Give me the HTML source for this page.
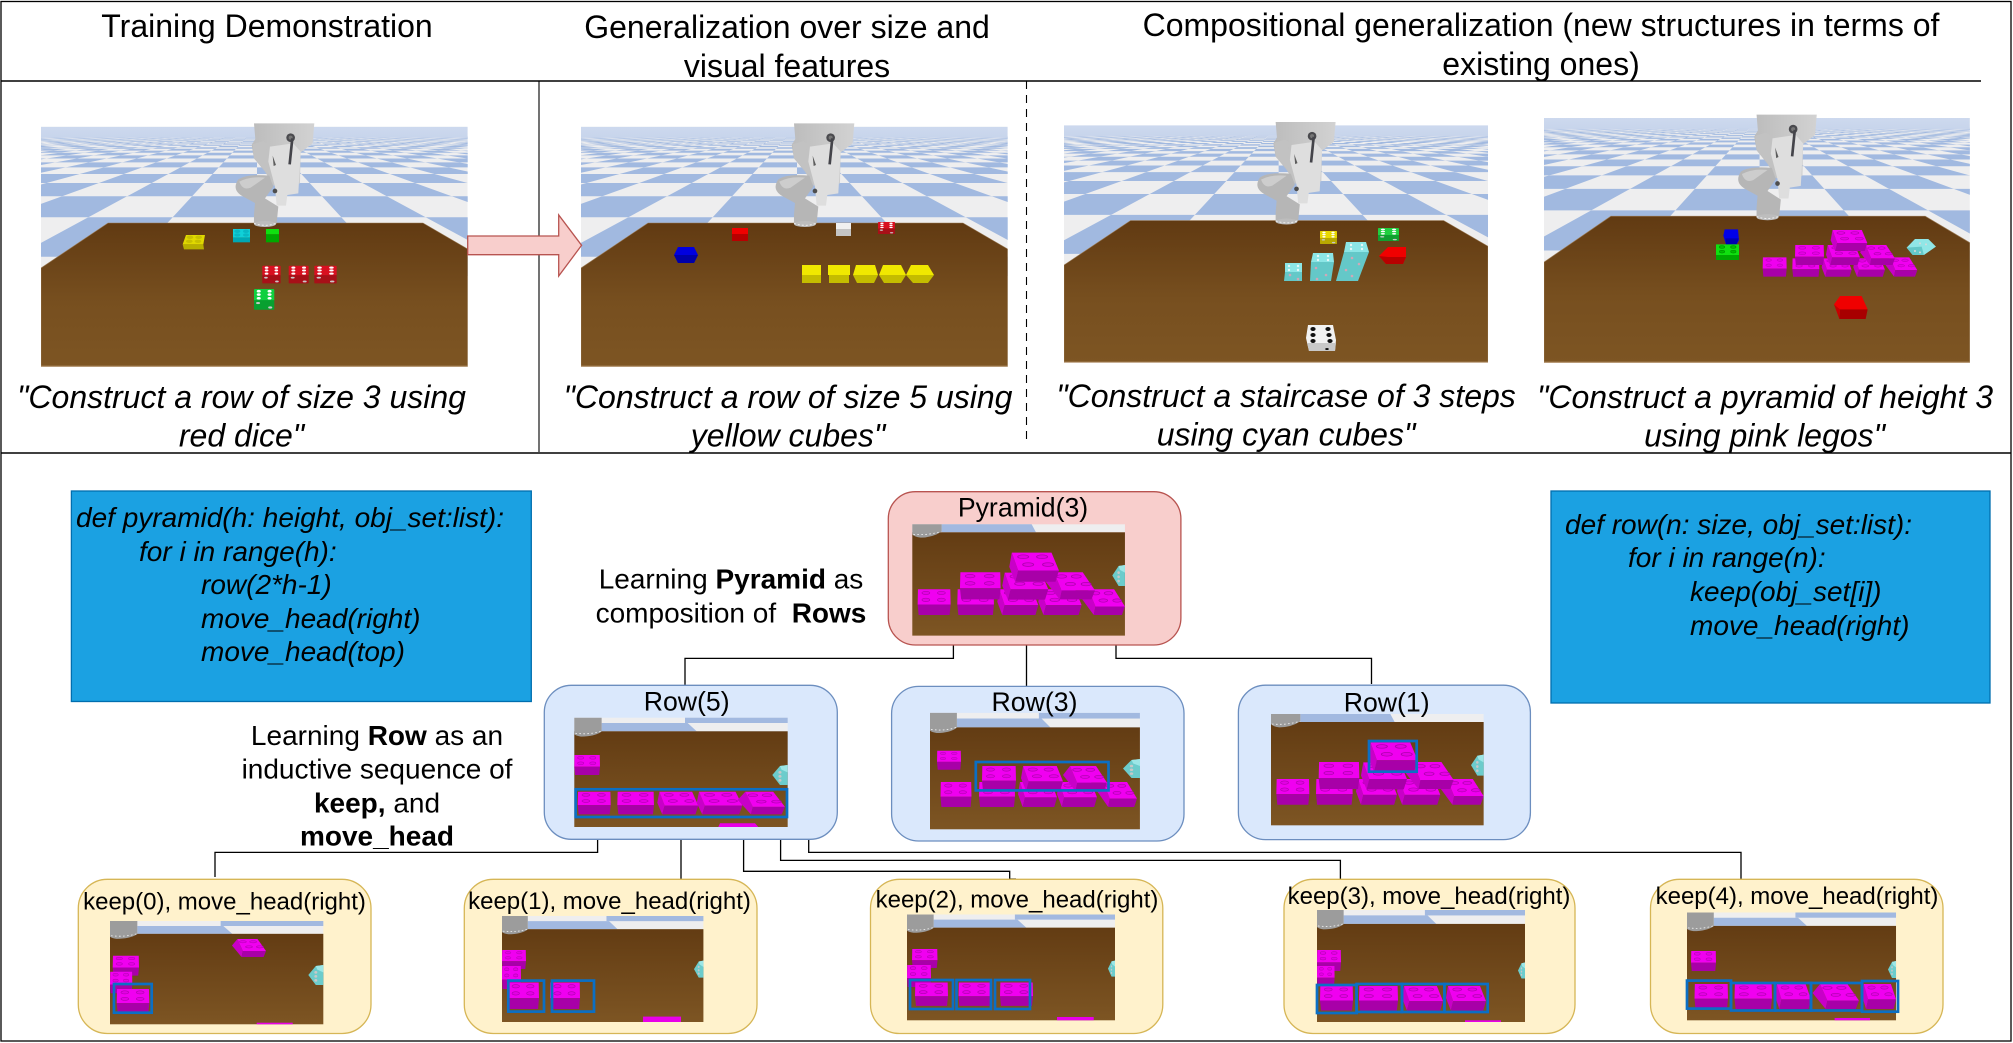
<!DOCTYPE html>
<html>
<head>
<meta charset="utf-8">
<title>Diagram</title>
<style>
html,body{margin:0;padding:0;background:#fff}
svg{display:block}
text{font-family:"Liberation Sans",Arial,sans-serif;fill:#000;white-space:pre}
.h{font-size:32px;text-anchor:middle}
.c{font-size:32px;font-style:italic;text-anchor:middle}
.n{font-size:26.67px;text-anchor:middle}
.l{font-size:28px;text-anchor:middle}
.k{font-size:24px;text-anchor:middle}
.d{font-size:28px;font-style:italic}
.b{font-weight:bold}
.br{fill:none;stroke:#0b6fc4;stroke-width:2.7}
.cn{fill:none;stroke:#000;stroke-width:1.3}
.sl{fill:#e800e8}
</style>
</head>
<body>
<svg xmlns="http://www.w3.org/2000/svg" width="2013" height="1043" viewBox="0 0 2013 1043">
<defs>
<linearGradient id="tg" x1="0" y1="96" x2="0" y2="240" gradientUnits="userSpaceOnUse">
<stop offset="0" stop-color="#613a12"/><stop offset=".55" stop-color="#774f1f"/><stop offset="1" stop-color="#7d5523"/>
</linearGradient>
<linearGradient id="tm" x1="0" y1="0" x2="0" y2="1">
<stop offset="0" stop-color="#633c13"/><stop offset="1" stop-color="#7d5523"/>
</linearGradient>
<linearGradient id="far" x1="0" y1="0" x2="0" y2="1">
<stop offset="0" stop-color="#cdd9ee"/><stop offset=".7" stop-color="#c8d5ec"/><stop offset="1" stop-color="#c8d5ec" stop-opacity="0"/>
</linearGradient>
<linearGradient id="ag" x1="0" y1="0" x2="1" y2="0">
<stop offset="0" stop-color="#bcbcbc"/><stop offset="1" stop-color="#d2d2d2"/>
</linearGradient>
<clipPath id="cs"><rect width="426.7" height="240"/></clipPath>
<clipPath id="rO"><path d="M-999 91.3H999V130.7H-999ZM-999 57H999V70.2H-999ZM-999 41.4H999V48H-999ZM-999 32.5H999V36.4H-999ZM-999 26.8H999V29.4H-999ZM-999 22.8H999V24.6H-999ZM-999 19.8H999V21.2H-999ZM-999 17.5H999V18.6H-999ZM-999 15.7H999V16.5H-999ZM-999 14.2H999V14.9H-999ZM-999 13H999V13.6H-999ZM-999 12H999V12.5H-999ZM-999 11.1H999V11.5H-999ZM-999 10.3H999V10.7H-999Z"/></clipPath>
<clipPath id="rE"><path d="M-999 130.7H999V240H-999ZM-999 70.2H999V91.3H-999ZM-999 48H999V57H-999ZM-999 36.4H999V41.4H-999ZM-999 29.4H999V32.5H-999ZM-999 24.6H999V26.8H-999ZM-999 21.2H999V22.8H-999ZM-999 18.6H999V19.8H-999ZM-999 16.5H999V17.5H-999ZM-999 14.9H999V15.7H-999ZM-999 13.6H999V14.2H-999ZM-999 12.5H999V13H-999ZM-999 11.5H999V12H-999ZM-999 10.7H999V11.1H-999Z"/></clipPath>
<path id="wA" fill="#a1b9e0" d="M0 0L-2402.4 100L-2310 100ZM0 0L-2217.6 100L-2125.2 100ZM0 0L-2032.8 100L-1940.4 100ZM0 0L-1848 100L-1755.6 100ZM0 0L-1663.2 100L-1570.8 100ZM0 0L-1478.4 100L-1386 100ZM0 0L-1293.6 100L-1201.2 100ZM0 0L-1108.8 100L-1016.4 100ZM0 0L-924 100L-831.6 100ZM0 0L-739.2 100L-646.8 100ZM0 0L-554.4 100L-462 100ZM0 0L-369.6 100L-277.2 100ZM0 0L-184.8 100L-92.4 100ZM0 0L0 100L92.4 100ZM0 0L184.8 100L277.2 100ZM0 0L369.6 100L462 100ZM0 0L554.4 100L646.8 100ZM0 0L739.2 100L831.6 100ZM0 0L924 100L1016.4 100ZM0 0L1108.8 100L1201.2 100ZM0 0L1293.6 100L1386 100ZM0 0L1478.4 100L1570.8 100ZM0 0L1663.2 100L1755.6 100ZM0 0L1848 100L1940.4 100ZM0 0L2032.8 100L2125.2 100ZM0 0L2217.6 100L2310 100Z"/>

<g id="arm">
<path fill="url(#ag)" d="M672 25H853L848 85L812 112L810 205L730 212L705 170L672 130L665 90L676 72Z"/>
<path fill="#c2c2c2" d="M668 88L700 78L720 92L708 102L735 140L728 195L700 160L672 130Z"/>
<path fill="#dedede" d="M720 95L790 85L812 110L805 235L772 240L768 272L740 272L735 215L715 140Z"/>
<path fill="#b6b6b6" d="M718 182Q650 176 625 193Q603 225 640 245L675 264L672 300L672 325Q705 340 740 325L745 275L705 250L730 215Z"/>
<path fill="#cdcdcd" d="M628 200Q660 183 705 188L662 218Q638 228 628 200Z"/>
<circle cx="782" cy="68" r="13" fill="#4a4a4e"/><circle cx="782" cy="68" r="6" fill="#777"/>
<path d="M787 70L779 148" stroke="#44444a" stroke-width="8" fill="none"/>
<path d="M728 122L738 150L731 153Z" fill="#5c5c5c"/>
<circle cx="735" cy="228" r="7" fill="#4e4e4e"/>
<ellipse cx="705" cy="327" rx="33" ry="9" fill="#bdbdbd"/>
<path d="M672 325Q705 337 738 325" fill="none" stroke="#eee" stroke-width="3" stroke-dasharray="6 6"/>
</g>

<g id="scene">
<g clip-path="url(#cs)">
<rect width="426.7" height="240" fill="#eeeeef"/>
<g transform="translate(216,-.7)">
<g clip-path="url(#rO)"><g transform="scale(1.5)"><use href="#wA"/></g></g>
<g clip-path="url(#rE)"><g transform="scale(1.5)"><use href="#wA" transform="matrix(1 0 .924 1 0 0)"/></g></g>
</g>
<rect width="426.7" height="14" fill="url(#far)"/>
<path fill="url(#tg)" stroke="#9a7a55" stroke-width=".6" d="M0 141.3L67 96.3H382L426.7 122.3V240H0Z"/>
<rect y="239" width="426.7" height="1" fill="#b5936a"/>
</g>
<use href="#arm" transform="translate(-11,-11.7) scale(.3333)"/>
</g>

<g id="die">
<rect width="60" height="32" rx="3" style="fill:var(--t)"/>
<rect y="30" width="60" height="26" rx="2" style="fill:var(--f)"/>
<g style="fill:var(--p,#fff)"><ellipse cx="14" cy="6" rx="6" ry="3.5"/><ellipse cx="46" cy="6" rx="6" ry="3.5"/><ellipse cx="14" cy="15" rx="6" ry="3.5"/><ellipse cx="46" cy="15" rx="6" ry="3.5"/><ellipse cx="14" cy="25" rx="6" ry="3.5"/><ellipse cx="46" cy="25" rx="6" ry="3.5"/></g>
<ellipse cx="12" cy="38" rx="6" ry="3" fill="#c8c8c8"/><ellipse cx="48" cy="50" rx="6" ry="3" fill="#c8c8c8"/>
</g>

<g id="L0">
<path fill="#f000f0" d="M1 0H99L100 46H0Z"/>
<path fill="#a800a8" d="M0 46H100L97 78H3Z"/>
<g fill="#e400e4" stroke="#b000b0" stroke-width="2"><ellipse cx="25" cy="11" rx="12" ry="5"/><ellipse cx="72" cy="11" rx="12" ry="5"/><ellipse cx="25" cy="32" rx="12" ry="5"/><ellipse cx="72" cy="32" rx="12" ry="5"/></g>
</g>
<g id="L1">
<path fill="#c800c8" d="M5 0L0 38L12 78L18 48Z"/>
<path fill="#f000f0" d="M5 0H85L100 48H18Z"/>
<path fill="#a800a8" d="M18 48H100L93 78H12Z"/>
<g fill="#e400e4" stroke="#b000b0" stroke-width="2"><ellipse cx="28" cy="11" rx="11" ry="5"/><ellipse cx="66" cy="11" rx="11" ry="5"/><ellipse cx="38" cy="32" rx="11" ry="5"/><ellipse cx="78" cy="32" rx="11" ry="5"/></g>
</g>
<g id="L2">
<path fill="#c800c8" d="M16 0L0 28L28 78L32 52Z"/>
<path fill="#f000f0" d="M16 0H75L100 52H32Z"/>
<path fill="#a800a8" d="M32 52H100L93 78H28Z"/>
<g fill="#e400e4" stroke="#b000b0" stroke-width="2"><ellipse cx="32" cy="12" rx="10" ry="5"/><ellipse cx="62" cy="12" rx="10" ry="5"/><ellipse cx="50" cy="34" rx="10" ry="5"/><ellipse cx="82" cy="34" rx="10" ry="5"/></g>
</g>
<g id="cy">
<path fill="#6ccccc" d="M0 30L20 3L40 0V60L20 60Z"/>
<path fill="#9ce6e6" d="M20 3L40 0V22L24 14Z"/>
<g fill="#c8c8c8"><circle cx="20" cy="22" r="4"/><circle cx="20" cy="34" r="4"/><circle cx="20" cy="46" r="4"/></g>
</g>

<g id="m2">
<rect width="640" height="41" fill="#eeeeef"/>
<rect x="332" width="308" height="16" fill="#a2b9e0"/>
<path d="M82 16H340L367 41H82Z" fill="#a2b9e0"/>
<rect y="41" width="640" height="289" fill="url(#tm)"/>
<path d="M0 0H82V42Q60 57 20 57Q5 55 0 50Z" fill="#9c9c9c"/>
<path d="M3 47Q45 52 80 41" fill="none" stroke="#eee" stroke-width="2.5" stroke-dasharray="5 7"/>
</g>
<g id="m1">
<rect width="638" height="24" fill="#eeeeef"/>
<path d="M88 0H358L371 24H88Z" fill="#a2b9e0"/>
<rect y="24" width="638" height="310" fill="url(#tm)"/>
<path d="M0 0H88V22Q60 40 25 40Q5 38 0 30Z" fill="#9c9c9c"/>
<path d="M3 30Q45 34 86 22" fill="none" stroke="#eee" stroke-width="2.5" stroke-dasharray="5 7"/>
</g>
<g id="pyr">
<use href="#m1"/>
<use href="#L0" transform="translate(16,195) scale(.99,.99)"/>
<use href="#L0" transform="translate(135,195) scale(1.1,.99)"/>
<use href="#L1" transform="translate(255,195) scale(1.23,.99)"/>
<use href="#L1" transform="translate(378,195) scale(1.3,.99)"/>
<use href="#L2" transform="translate(508,195) scale(1.3,.99)"/>
<use href="#L0" transform="translate(143,144) scale(1.22,1.04)"/>
<use href="#L1" transform="translate(270,145) scale(1.38,1.04)"/>
<use href="#L2" transform="translate(401,144) scale(1.47,1.04)"/>
<use href="#L1" transform="translate(291,85) scale(1.49,1.12)"/>
<use href="#cy" transform="translate(600,122) scale(.95,1.05)"/>
</g>
</defs>

<rect width="2013" height="1043" fill="#fff"/>

<!-- frame -->
<rect x="1" y="1.5" width="2010" height="1039.5" fill="none" stroke="#000" stroke-width="1.3"/>
<path d="M1 81H1981" stroke="#000" stroke-width="1.4" fill="none"/>
<path d="M1 453H2011" stroke="#000" stroke-width="1.4" fill="none"/>
<path d="M539 81V452" stroke="#000" stroke-width="1.1" fill="none"/>
<path d="M1026.5 81V442" stroke="#000" stroke-width="1.1" stroke-dasharray="8 6" fill="none"/>

<!-- headers -->
<text class="h" x="267" y="37">Training Demonstration</text>
<text class="h" x="787" y="38">Generalization over size and</text>
<text class="h" x="787" y="77">visual features</text>
<text class="h" x="1541" y="36">Compositional generalization (new structures in terms of</text>
<text class="h" x="1541" y="75">existing ones)</text>

<!-- scene 1 -->
<use href="#scene" transform="translate(41,126.7)"/>
<g transform="translate(30,115) scale(.3333)">
<path fill="#e0d800" d="M468 360H525L520 388H458Z"/><path fill="#b8b000" d="M458 388H520L522 403H462Z"/>
<g fill="#c8c000"><ellipse cx="480" cy="367" rx="10" ry="5"/><ellipse cx="506" cy="367" rx="10" ry="5"/><ellipse cx="478" cy="379" rx="10" ry="5"/><ellipse cx="504" cy="379" rx="10" ry="5"/></g>
<rect x="609" y="342" width="51" height="26" fill="#10d0d8"/><rect x="609" y="368" width="51" height="14" fill="#00a8b4"/>
<g fill="#08b8c4"><ellipse cx="622" cy="349" rx="9" ry="5"/><ellipse cx="648" cy="349" rx="9" ry="5"/><ellipse cx="622" cy="360" rx="9" ry="5"/><ellipse cx="648" cy="360" rx="9" ry="5"/></g>
<rect x="708" y="342" width="39" height="16" fill="#10e010"/><rect x="708" y="358" width="39" height="24" fill="#00a800"/>
</g>
<use href="#die" style="--t:#d81020;--f:#a81018" transform="translate(262.3,265.7) scale(.305,.315)"/>
<use href="#die" style="--t:#d81020;--f:#a81018" transform="translate(288.7,265.7) scale(.333,.315)"/>
<use href="#die" style="--t:#d81020;--f:#a81018" transform="translate(314.3,265.7) scale(.373,.315)"/>
<use href="#die" style="--t:#10d040;--f:#08a030" transform="translate(254,289) scale(.338,.37)"/>

<!-- scene 2 -->
<use href="#scene" transform="translate(581,126.7)"/>
<rect x="732" y="228" width="16" height="6" fill="#f00000"/><rect x="732" y="234" width="16" height="7" fill="#b80000"/>
<rect x="836" y="223" width="15" height="6" fill="#f0f0f0"/><rect x="836" y="229" width="15" height="7" fill="#c4c4c4"/>
<use href="#die" style="--t:#d81020;--f:#a81018" transform="translate(878,222) scale(.283,.215)"/>
<path fill="#0000e0" d="M678 247H694L698 255L694 263H678L674 255Z"/><path fill="#0000a8" d="M674 255H698L694 263H678Z"/>
<g>
<rect x="802" y="265" width="19" height="10" fill="#f0e800"/><rect x="802" y="275" width="19" height="8" fill="#c4bc00"/>
<rect x="828" y="265" width="22" height="10" fill="#f0e800"/><rect x="829" y="275" width="20" height="8" fill="#c4bc00"/>
<path fill="#f0e800" d="M856 265H875L878 275H853Z"/><path fill="#c4bc00" d="M853 275H878L874 283H857Z"/>
<path fill="#f0e800" d="M883 265H901L906 275H879Z"/><path fill="#c4bc00" d="M879 275H906L901 283H884Z"/>
<path fill="#f0e800" d="M911 265H928L934 275H906Z"/><path fill="#c4bc00" d="M906 275H934L928 283H913Z"/>
</g>

<!-- scene 3 -->
<use href="#scene" transform="translate(1064,125.3) scale(.9937,.989)"/>
<use href="#die" style="--t:#e8d800;--f:#b8a800" transform="translate(1320,231) scale(.283,.232)"/>
<use href="#die" style="--t:#20d040;--f:#10a030" transform="translate(1378,228) scale(.35,.232)"/>
<path fill="#f00000" d="M1388 247H1406V257L1403 264H1386L1379 256Z"/><path fill="#b80000" d="M1379 256L1386 264H1403L1406 257H1388Z"/>
<path fill="#8ce6e6" d="M1285 263H1302V272H1285Z"/><path fill="#64c8c8" d="M1285 272H1302V281H1284Z"/>
<path fill="#8ce6e6" d="M1313 253H1333L1334 262H1311Z"/><path fill="#64c8c8" d="M1311 262H1334L1331 281H1310Z"/>
<path fill="#8ce6e6" d="M1346 242H1366L1369 252H1344Z"/><path fill="#64c8c8" d="M1344 252H1369L1358 281H1336Z"/>
<g fill="#d0a8b8"><circle cx="1290" cy="275" r="1.3"/><circle cx="1298" cy="279" r="1.3"/><circle cx="1316" cy="268" r="1.3"/><circle cx="1326" cy="275" r="1.3"/><circle cx="1317" cy="279" r="1.3"/><circle cx="1352" cy="258" r="1.3"/><circle cx="1359" cy="264" r="1.3"/><circle cx="1346" cy="270" r="1.3"/><circle cx="1352" cy="276" r="1.3"/></g>
<g fill="#e8f8f8"><circle cx="1289" cy="266" r="1.2"/><circle cx="1298" cy="266" r="1.2"/><circle cx="1289" cy="270" r="1.2"/><circle cx="1298" cy="270" r="1.2"/><circle cx="1318" cy="256" r="1.2"/><circle cx="1328" cy="256" r="1.2"/><circle cx="1318" cy="260" r="1.2"/><circle cx="1328" cy="260" r="1.2"/><circle cx="1351" cy="245" r="1.2"/><circle cx="1362" cy="245" r="1.2"/><circle cx="1351" cy="249" r="1.2"/><circle cx="1362" cy="249" r="1.2"/></g>
<path fill="#f2f2f2" d="M1308 325H1333L1336 340L1335 351H1309L1306 338Z"/><path fill="#c8c8c8" d="M1307 343H1336L1335 351H1309Z"/>
<g fill="#111"><ellipse cx="1313" cy="329" rx="2.6" ry="2"/><ellipse cx="1328" cy="329" rx="2.6" ry="2"/><ellipse cx="1313" cy="335" rx="2.6" ry="2"/><ellipse cx="1329" cy="335" rx="2.6" ry="2"/><ellipse cx="1313" cy="341" rx="2.6" ry="2"/><ellipse cx="1330" cy="341" rx="2.6" ry="2"/><ellipse cx="1327" cy="349" rx="1.8" ry="1"/></g>

<!-- scene 4 -->
<use href="#scene" transform="translate(1544,118) scale(.998,1.0196)"/>
<g transform="translate(1720,215) scale(.3333)">
<path fill="#0000e8" d="M14 43H54L57 75L50 88H18L10 62Z"/><path fill="#0000b0" d="M16 70H56L50 88H18Z"/>
<path fill="#10e010" d="M-12 88H57V120H-12Z"/><path fill="#00a800" d="M-12 120H57V135H-12Z"/>
<g fill="#00c000" stroke="#009000" stroke-width="2"><ellipse cx="6" cy="96" rx="8" ry="4"/><ellipse cx="40" cy="96" rx="8" ry="4"/><ellipse cx="6" cy="110" rx="8" ry="4"/><ellipse cx="40" cy="110" rx="8" ry="4"/></g>
<use href="#L0" transform="translate(128,127) scale(.72,.74)"/>
<use href="#L0" transform="translate(217,130) scale(.81,.71)"/>
<use href="#L1" transform="translate(305,130) scale(.9,.71)"/>
<use href="#L1" transform="translate(400,130) scale(.95,.71)"/>
<use href="#L2" transform="translate(495,127) scale(.97,.74)"/>
<use href="#L0" transform="translate(225,90) scale(.87,.77)"/>
<use href="#L1" transform="translate(318,90) scale(1.02,.77)"/>
<use href="#L2" transform="translate(420,90) scale(1.05,.77)"/>
<use href="#L1" transform="translate(332,45) scale(1.1,.81)"/>
<path fill="#f00000" d="M360 243H425L443 283L360 290L342 268Z"/><path fill="#a80000" d="M360 283H443L437 312H358Z"/><path fill="#c80000" d="M342 268L360 283L358 312Z"/>
<path fill="#90e6e6" d="M560 98L585 72H625L648 95L612 120H578Z"/><path fill="#64c8c8" d="M560 98L605 95L612 120H578Z"/>
<g fill="#d8d8d8"><circle cx="600" cy="85" r="3"/><circle cx="618" cy="88" r="3"/><circle cx="585" cy="108" r="3"/><circle cx="600" cy="112" r="3"/></g>
</g>

<!-- captions -->
<text class="c" x="241.5" y="408">"Construct a row of size 3 using</text>
<text class="c" x="241.5" y="446.5">red dice"</text>
<text class="c" x="788" y="408">"Construct a row of size 5 using</text>
<text class="c" x="788" y="446.5">yellow cubes"</text>
<text class="c" x="1286" y="407">"Construct a staircase of 3 steps</text>
<text class="c" x="1286" y="445.5">using cyan cubes"</text>
<text class="c" x="1765" y="408">"Construct a pyramid of height 3</text>
<text class="c" x="1764.5" y="446.5">using pink legos"</text>

<!-- arrow -->
<path fill="#f8cecc" stroke="#b85450" stroke-width="1.3" d="M467.7 236H558.7V215L581.6 245.3L558.7 276V254.7H467.7Z"/>

<!-- code boxes -->
<rect x="71.4" y="491" width="459.9" height="210.5" fill="#1ba1e2" stroke="#006eaf" stroke-width="1.3"/>
<text class="d" x="76" y="527">def pyramid(h: height, obj_set:list):</text>
<text class="d" x="139" y="561">for i in range(h):</text>
<text class="d" x="201" y="594">row(2*h-1)</text>
<text class="d" x="201" y="628">move_head(right)</text>
<text class="d" x="201" y="661">move_head(top)</text>
<rect x="1551" y="491" width="439" height="212" fill="#1ba1e2" stroke="#006eaf" stroke-width="1.3"/>
<text class="d" x="1565" y="534">def row(n: size, obj_set:list):</text>
<text class="d" x="1628" y="567">for i in range(n):</text>
<text class="d" x="1690" y="601">keep(obj_set[i])</text>
<text class="d" x="1690" y="635">move_head(right)</text>

<!-- connectors -->
<path class="cn" d="M953.4 645V658.4H685V685"/>
<path class="cn" d="M1026.5 645V686"/>
<path class="cn" d="M1116 645V658.4H1371.5V684"/>
<path class="cn" d="M597.6 839V852.4H215V877"/>
<path class="cn" d="M681 839V879"/>
<path class="cn" d="M743.6 839V871.3H1009.7V879H1016"/>
<path class="cn" d="M780.6 839V860.4H1340.4V879"/>
<path class="cn" d="M808.7 839V852.4H1741V879"/>

<!-- Pyramid -->
<rect x="888.3" y="491.7" width="292.6" height="153.3" rx="27" fill="#f8cecc" stroke="#b85450" stroke-width="1.3"/>
<use href="#pyr" transform="translate(912.3,524.3) scale(.3333)"/>
<text class="n" x="1023" y="516.5">Pyramid(3)</text>

<!-- Row 5 -->
<rect x="544.3" y="685.3" width="293" height="154" rx="27" fill="#dae8fc" stroke="#6c8ebf" stroke-width="1.3"/>
<use href="#m2" transform="translate(574.3,717.7) scale(.3334,.3312)"/>
<use href="#L0" transform="translate(574.3,755) scale(.257,.256)"/>
<use href="#L0" transform="translate(577.7,791.7) scale(.33,.291)"/>
<use href="#L0" transform="translate(617.3,791.7) scale(.367,.291)"/>
<use href="#L1" transform="translate(657.3,791.7) scale(.41,.291)"/>
<use href="#L1" transform="translate(696.7,791.7) scale(.457,.291)"/>
<use href="#L2" transform="translate(737.7,791.7) scale(.473,.291)"/>
<use href="#cy" transform="translate(772.3,765) scale(.383,.333)"/>
<path class="sl" d="M720 823.3H755L758.3 827H718.3Z"/>
<rect class="br" x="575.7" y="789.3" width="211.3" height="27.7"/>
<text class="n" x="686.7" y="710.7">Row(5)</text>

<!-- Row 3 -->
<rect x="891.6" y="686.4" width="292.4" height="154.6" rx="27" fill="#dae8fc" stroke="#6c8ebf" stroke-width="1.3"/>
<use href="#m2" transform="translate(930,712.9) scale(.328,.3527)"/>
<use href="#L0" transform="translate(937,750.7) scale(.24,.244)"/>
<use href="#L0" transform="translate(940.5,782) scale(.31,.32)"/>
<use href="#L0" transform="translate(979,782) scale(.36,.32)"/>
<use href="#L1" transform="translate(1018,782) scale(.39,.32)"/>
<use href="#L1" transform="translate(1057,782) scale(.4,.32)"/>
<use href="#L2" transform="translate(1097,782) scale(.4,.32)"/>
<use href="#L0" transform="translate(982,766) scale(.34,.32)"/>
<use href="#L1" transform="translate(1021,766) scale(.42,.32)"/>
<use href="#L2" transform="translate(1063,766) scale(.44,.32)"/>
<use href="#cy" transform="translate(1123,759) scale(.425,.317)"/>
<rect class="br" x="975.8" y="762" width="132.7" height="28.4"/>
<text class="n" x="1034.5" y="711">Row(3)</text>

<!-- Row 1 -->
<rect x="1238.4" y="685.2" width="292" height="154.4" rx="27" fill="#dae8fc" stroke="#6c8ebf" stroke-width="1.3"/>
<use href="#pyr" transform="translate(1271,714) scale(.3333)"/>
<rect class="br" x="1369" y="741" width="47.7" height="30.7"/>
<text class="n" x="1386.7" y="711.7">Row(1)</text>

<!-- Learning text -->
<text class="l" x="731" y="588.4">Learning <tspan class="b">Pyramid</tspan> as</text>
<text class="l" x="731" y="622.5">composition of  <tspan class="b">Rows</tspan></text>
<text class="l" x="377" y="745">Learning <tspan class="b">Row</tspan> as an</text>
<text class="l" x="377" y="778.3">inductive sequence of</text>
<text class="l" x="377" y="812.3"><tspan class="b">keep,</tspan> and</text>
<text class="l b" x="377" y="845.6">move_head</text>

<!-- keep 0 -->
<rect x="78.3" y="879.3" width="292.7" height="154.2" rx="29" fill="#fff2cc" stroke="#d6b656" stroke-width="1.3"/>
<use href="#m2" transform="translate(110,921) scale(.3333,.313)"/>
<use href="#L2" transform="translate(232,939) scale(.34,.23)"/>
<use href="#L0" transform="translate(112.7,955.7) scale(.263,.256)"/>
<use href="#L0" transform="translate(110,971.7) scale(.223,.277)"/>
<use href="#L0" transform="translate(116.7,989) scale(.326,.308)"/>
<rect class="sl" x="256.7" y="1022.7" width="36" height="1.6"/>
<use href="#cy" transform="translate(308.3,965) scale(.375,.333)"/>
<rect class="br" x="114" y="984" width="37.7" height="28.7"/>
<text class="k" x="224.5" y="909.3">keep(0), move_head(right)</text>

<!-- keep 1 -->
<rect x="464.3" y="879.3" width="292.7" height="154.2" rx="29" fill="#fff2cc" stroke="#d6b656" stroke-width="1.3"/>
<use href="#m2" transform="translate(502,916) scale(.3147,.3212)"/>
<use href="#L0" transform="translate(502,950) scale(.24,.244)"/>
<use href="#L0" transform="translate(502,966) scale(.19,.295)"/>
<use href="#L0" transform="translate(508,982.5) scale(.31,.34)"/>
<use href="#L0" transform="translate(550,982.5) scale(.3,.34)"/>
<rect class="sl" x="643" y="1016.6" width="38" height="5.4"/>
<use href="#cy" transform="translate(694,960.6) scale(.235,.283)"/>
<rect class="br" x="508.3" y="980.6" width="35.7" height="31"/>
<rect class="br" x="552" y="980.6" width="42" height="31"/>
<text class="k" x="609.5" y="908.8">keep(1), move_head(right)</text>

<!-- keep 2 -->
<rect x="870.5" y="879.3" width="292.3" height="154.2" rx="29" fill="#fff2cc" stroke="#d6b656" stroke-width="1.3"/>
<use href="#m2" transform="translate(907,914.5) scale(.325,.3206)"/>
<use href="#L0" transform="translate(912,949) scale(.255,.244)"/>
<use href="#L0" transform="translate(907,965) scale(.24,.282)"/>
<use href="#L0" transform="translate(915,982.5) scale(.33,.3)"/>
<use href="#L0" transform="translate(958.5,982.5) scale(.32,.3)"/>
<use href="#L0" transform="translate(1000,982.5) scale(.33,.3)"/>
<rect class="sl" x="1057" y="1017" width="36.7" height="3.3"/>
<use href="#cy" transform="translate(1108,960.6) scale(.175,.267)"/>
<rect class="br" x="910" y="980" width="43" height="29"/>
<rect class="br" x="956.5" y="980" width="34.5" height="29"/>
<rect class="br" x="995" y="980" width="35" height="29"/>
<text class="k" x="1017" y="907.6">keep(2), move_head(right)</text>

<!-- keep 3 -->
<rect x="1284" y="879.3" width="291" height="154.2" rx="29" fill="#fff2cc" stroke="#d6b656" stroke-width="1.3"/>
<use href="#m2" transform="translate(1317,910) scale(.325,.3394)"/>
<use href="#L0" transform="translate(1317,950) scale(.24,.269)"/>
<use href="#L0" transform="translate(1317,966) scale(.176,.256)"/>
<use href="#L0" transform="translate(1320,986) scale(.33,.314)"/>
<use href="#L0" transform="translate(1359,986) scale(.39,.314)"/>
<use href="#L1" transform="translate(1402,986) scale(.41,.314)"/>
<use href="#L1" transform="translate(1446,986) scale(.4,.314)"/>
<rect class="sl" x="1465" y="1020.3" width="36" height="1.7"/>
<use href="#cy" transform="translate(1518,962.5) scale(.175,.267)"/>
<rect class="br" x="1317" y="985" width="39.6" height="28"/>
<rect class="br" x="1356.6" y="984" width="45.4" height="28"/>
<rect class="br" x="1402" y="984" width="42.4" height="28"/>
<rect class="br" x="1444.4" y="984" width="43.3" height="28"/>
<text class="k" x="1429" y="904">keep(3), move_head(right)</text>

<!-- keep 4 -->
<rect x="1650.5" y="879.3" width="292.5" height="154.2" rx="29" fill="#fff2cc" stroke="#d6b656" stroke-width="1.3"/>
<use href="#m2" transform="translate(1687,912.5) scale(.3266,.3267)"/>
<use href="#L0" transform="translate(1691,951) scale(.25,.256)"/>
<use href="#L0" transform="translate(1694.5,984) scale(.335,.32)"/>
<use href="#L0" transform="translate(1734.5,984) scale(.375,.32)"/>
<use href="#L1" transform="translate(1775,984) scale(.36,.32)"/>
<use href="#L2" transform="translate(1812.6,984) scale(.464,.32)"/>
<use href="#L1" transform="translate(1862,984) scale(.34,.32)"/>
<rect class="sl" x="1834.6" y="1018" width="35.4" height="2.3"/>
<use href="#cy" transform="translate(1888,961) scale(.2,.283)"/>
<rect class="br" x="1687" y="980.6" width="44" height="28"/>
<rect class="br" x="1731" y="983" width="44" height="27.5"/>
<rect class="br" x="1775" y="983" width="36" height="27.5"/>
<rect class="br" x="1811" y="983" width="51" height="27.5"/>
<rect class="br" x="1862" y="981" width="36" height="30.7"/>
<text class="k" x="1797" y="904">keep(4), move_head(right)</text>
</svg>
</body>
</html>
